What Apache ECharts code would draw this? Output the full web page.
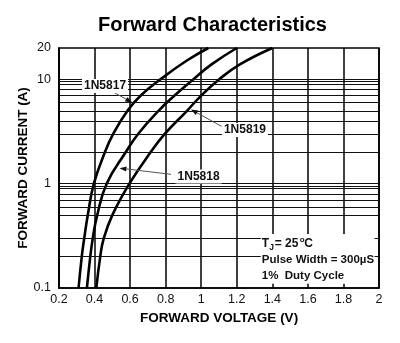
<!DOCTYPE html>
<html>
<head>
<meta charset="utf-8">
<script src="https://cdn.jsdelivr.net/npm/echarts@6/dist/echarts.min.js"></script>
<style>
  html, body { margin: 0; padding: 0; background: #fff; }
  #chart { width: 400px; height: 343px; }
</style>
</head>
<body>
<div id="chart"></div>
<script>
// Forward current (A) vs. forward voltage (V) for each diode
const amps1N5817 = [0.1, 0.2, 0.3, 0.5, 1, 2, 3, 5, 7, 10, 15, 20];
const volts1N5817 = [0.31, 0.328, 0.342, 0.362, 0.396, 0.458, 0.505, 0.585, 0.66, 0.77, 0.915, 1.04];

const amps1N5818 = [0.1, 0.2, 0.3, 0.5, 1, 2, 3, 5, 7, 10, 14, 20];
const volts1N5818 = [0.357, 0.376, 0.39, 0.415, 0.468, 0.575, 0.645, 0.76, 0.85, 0.955, 1.06, 1.2];

const amps1N5819 = [0.1, 0.2, 0.3, 0.5, 1, 2, 3, 5, 7, 10, 14, 20];
const volts1N5819 = [0.41, 0.432, 0.452, 0.5, 0.596, 0.715, 0.795, 0.92, 1.0, 1.1, 1.22, 1.4];

// Horizontal grid lines of the log current scale
const gridCurrents = [0.2, 0.3, 0.5, 0.6, 0.7, 0.8, 0.9, 0.95, 1, 2, 3, 4, 5, 6, 7, 8, 9, 9.5, 10];

const FONT = '"Liberation Sans", Arial, Helvetica, sans-serif';

function pairs(v, a) { return v.map((x, i) => [x, a[i]]); }

const curveStyle = { color: '#000', width: 2.6 };

const chart = echarts.init(document.getElementById('chart'), null, { renderer: 'canvas' });

chart.setOption({
  animation: false,
  backgroundColor: '#fff',
  title: {
    text: 'Forward Characteristics',
    left: 93,
    top: 10,
    textStyle: { fontFamily: FONT, fontSize: 20, fontWeight: 'bold', color: '#000' }
  },
  grid: {
    left: 59, right: 21, top: 48, bottom: 55,
    show: true, borderColor: '#000', borderWidth: 1.6, backgroundColor: 'transparent'
  },
  xAxis: {
    type: 'value',
    min: 0.2, max: 2, interval: 0.2,
    name: 'FORWARD VOLTAGE (V)',
    nameLocation: 'middle',
    nameGap: 23,
    nameMoveOverlap: false,
    nameTextStyle: { fontFamily: FONT, fontSize: 13.5, fontWeight: 'bold', color: '#000' },
    axisLine: { show: true, lineStyle: { color: '#000', width: 1.6 } },
    axisTick: { show: false },
    axisLabel: {
      margin: 5, fontFamily: FONT, fontSize: 12.5, color: '#111',
      formatter: v => String(+v.toFixed(1))
    },
    splitLine: { show: true, lineStyle: { color: '#000', width: 1.5 } }
  },
  yAxis: {
    type: 'log',
    logBase: 10,
    min: 0.1, max: 20,
    name: 'FORWARD CURRENT (A)',
    nameLocation: 'middle',
    nameRotate: 90,
    nameGap: 29,
    nameMoveOverlap: false,
    nameTextStyle: { fontFamily: FONT, fontSize: 13.5, fontWeight: 'bold', color: '#000' },
    axisLine: { show: true, lineStyle: { color: '#000', width: 1.6 } },
    axisTick: { show: false },
    axisLabel: {
      margin: 8, fontFamily: FONT, fontSize: 12.5, color: '#111',
      formatter: v => String(+(+v).toPrecision(3))
    },
    splitLine: { show: false }
  },
  series: [
    {
      name: '1N5817', type: 'line', smooth: 0.45, showSymbol: false, silent: true,
      lineStyle: curveStyle, data: pairs(volts1N5817, amps1N5817),
      markLine: {
        silent: true, symbol: 'none', label: { show: false },
        lineStyle: { color: '#111', width: 1.1, type: 'solid' },
        data: gridCurrents.map(v => ({ yAxis: v }))
      }
    },
    {
      name: '1N5818', type: 'line', smooth: 0.45, showSymbol: false, silent: true,
      lineStyle: curveStyle, data: pairs(volts1N5818, amps1N5818)
    },
    {
      name: '1N5819', type: 'line', smooth: 0.45, showSymbol: false, silent: true,
      lineStyle: curveStyle, data: pairs(volts1N5819, amps1N5819)
    }
  ]
});

// Curve callouts: label centre, leader tail and arrow tip, in data coordinates
const callouts = [
  { text: '1N5817', label: [0.459, 8.63], tail: [0.50, 7.65], tip: [0.612, 6.0] },
  { text: '1N5818', label: [0.985, 1.17], tail: [0.83, 1.23], tip: [0.54, 1.41] },
  { text: '1N5819', label: [1.246, 3.28], tail: [1.115, 3.54], tip: [0.942, 5.15] }
];

const px = p => chart.convertToPixel({ gridIndex: 0 }, p);
const graphics = [];

callouts.forEach(c => {
  const t = px(c.tail), h = px(c.tip), l = px(c.label);
  const ang = Math.atan2(h[1] - t[1], h[0] - t[0]);
  const len = 7, half = 2.6;
  const bx = h[0] - len * Math.cos(ang), by = h[1] - len * Math.sin(ang);
  const nx = -Math.sin(ang) * half, ny = Math.cos(ang) * half;
  graphics.push({
    type: 'line', silent: true, z: 20,
    shape: { x1: t[0], y1: t[1], x2: bx, y2: by },
    style: { stroke: '#555', lineWidth: 1 }
  });
  graphics.push({
    type: 'polygon', silent: true, z: 20,
    shape: { points: [[h[0], h[1]], [bx + nx, by + ny], [bx - nx, by - ny]] },
    style: { fill: '#111' }
  });
  graphics.push({
    type: 'text', silent: true, z: 21,
    x: l[0], y: l[1],
    style: {
      text: c.text, fontFamily: FONT, fontSize: 12, fontWeight: 'bold', fill: '#111',
      align: 'center', verticalAlign: 'middle',
      backgroundColor: '#fff', padding: [1, 2, 1, 2]
    }
  });
});

// Test-condition note in the lower-right corner of the plot
const boxTL = px([1.335, 0.33]);
const boxBR = px([1.975, 0.11]);
graphics.push({
  type: 'rect', silent: true, z: 20,
  shape: { x: boxTL[0], y: boxTL[1], width: boxBR[0] - boxTL[0], height: boxBR[1] - boxTL[1] },
  style: { fill: '#fff' }
});
const noteX = boxTL[0] + 1;
const noteY = boxTL[1] + 10;
const noteStyle = { fontFamily: FONT, fontWeight: 'bold', fill: '#111', verticalAlign: 'middle', align: 'left' };
graphics.push(
  { type: 'text', silent: true, z: 21, x: noteX, y: noteY, style: Object.assign({ text: 'T', fontSize: 12 }, noteStyle) },
  { type: 'text', silent: true, z: 21, x: noteX + 7.5, y: noteY + 4, style: Object.assign({ text: 'J', fontSize: 8.5 }, noteStyle) },
  { type: 'text', silent: true, z: 21, x: noteX + 13, y: noteY, style: Object.assign({ text: '= 25', fontSize: 12 }, noteStyle) },
  { type: 'text', silent: true, z: 21, x: noteX + 38, y: noteY - 4, style: Object.assign({ text: 'o', fontSize: 8 }, noteStyle) },
  { type: 'text', silent: true, z: 21, x: noteX + 42.5, y: noteY, style: Object.assign({ text: 'C', fontSize: 12 }, noteStyle) },
  { type: 'text', silent: true, z: 21, x: noteX, y: noteY + 16, style: Object.assign({ text: 'Pulse Width = 300\u00B5S', fontSize: 11.5 }, noteStyle) },
  { type: 'text', silent: true, z: 21, x: noteX, y: noteY + 32, style: Object.assign({ text: '1%  Duty Cycle', fontSize: 11.5 }, noteStyle) }
);

chart.setOption({ graphic: graphics });
</script>
</body>
</html>
